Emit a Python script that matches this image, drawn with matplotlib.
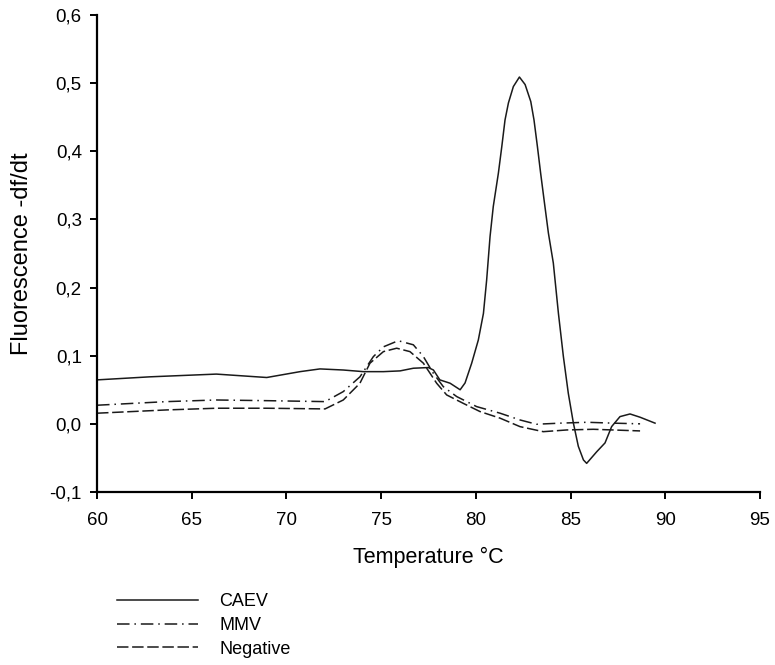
import numpy as np
import matplotlib
matplotlib.use('Agg')
import matplotlib.pyplot as plt

plt.rcParams['font.family'] = ['Liberation Sans', 'DejaVu Sans']

# CAEV melt curve
caev_t = [60, 62.8, 66.3, 68.96, 70.72, 71.77, 73.0, 74.06, 75.12, 76.0, 76.7, 77.49, 77.76, 78.1,
          78.64, 79.17, 79.43, 79.78, 80.13, 80.4, 80.57, 80.75, 80.92, 81.19, 81.37, 81.54, 81.72,
          81.98, 82.3, 82.6, 82.9, 83.07, 83.25, 83.42, 83.6, 83.83, 84.09, 84.36, 84.62, 84.88,
          85.15, 85.41, 85.68, 85.85, 86.38, 86.82, 87.17, 87.61, 88.14, 88.67, 89.46]
caev_y = [0.0645, 0.069, 0.073, 0.068, 0.0766, 0.0806, 0.079, 0.0766, 0.0766, 0.0777, 0.0816, 0.0826,
          0.079, 0.0645, 0.0596, 0.050, 0.060, 0.089, 0.123, 0.162, 0.211, 0.275, 0.319, 0.368, 0.407,
          0.446, 0.471, 0.495, 0.509, 0.498, 0.473, 0.446, 0.407, 0.368, 0.329, 0.280, 0.236, 0.162,
          0.099, 0.045, 0.001, -0.033, -0.053, -0.058, -0.041, -0.028, -0.004, 0.0106, 0.0145,
          0.0097, 0.001]

# MMV melt curve
mmv_t = [60, 63.67, 66.3, 68.96, 72.04, 73.0, 73.88, 74.59, 75.12, 75.9, 76.7, 77.23, 77.76, 78.28,
         78.99, 80.04, 81.28, 82.33, 83.2, 84.45, 85.86, 87.26, 88.67]
mmv_y = [0.0273, 0.0326, 0.035, 0.034, 0.0326, 0.0473, 0.069, 0.0987, 0.113, 0.122, 0.116, 0.0987,
         0.074, 0.0546, 0.040, 0.0253, 0.0156, 0.0057, -0.0006, 0.001, 0.0023, 0.001, 0.0]

# Negative control
neg_t = [60, 63.67, 66.3, 68.96, 72.04, 73.0, 73.88, 74.41, 75.12, 75.82, 76.52, 77.23, 77.93, 78.46,
         79.34, 80.22, 81.28, 82.33, 83.56, 84.8, 86.2, 88.67]
neg_y = [0.0156, 0.0204, 0.0229, 0.0229, 0.0219, 0.035, 0.0596, 0.089, 0.106, 0.111, 0.106, 0.089,
         0.0596, 0.0424, 0.030, 0.018, 0.0083, -0.0041, -0.0115, -0.009, -0.008, -0.0104]

xticks = [60, 65, 70, 75, 80, 85, 90, 95]
yticks = [-0.1, 0.0, 0.1, 0.2, 0.3, 0.4, 0.5, 0.6]

fig = plt.figure(figsize=(7.75, 6.65), dpi=100)
ax = fig.add_axes([0.1252, 0.2602, 0.8554, 0.7172])

col = '#1a1a1a'
l1, = ax.plot(caev_t, caev_y, color=col, lw=1.1, label='CAEV')
l2, = ax.plot(mmv_t, mmv_y, color=col, lw=1.1, dashes=(8.2, 3.2, 1, 3.2), label='MMV')
l3, = ax.plot(neg_t, neg_y, color=col, lw=1.1, dashes=(7.5, 2.4), label='Negative')

ax.set_xlim(60, 95)
ax.set_ylim(-0.1, 0.6)
ax.set_xticks(xticks)
ax.set_yticks(yticks)
ax.set_yticklabels([('%.1f' % v).replace('.', ',') for v in yticks])
ax.spines['top'].set_visible(False)
ax.spines['right'].set_visible(False)
ax.spines['left'].set_linewidth(1.6)
ax.spines['bottom'].set_linewidth(1.6)
ax.tick_params(direction='out', length=5, width=1.4, labelsize=13.5)
ax.tick_params(axis='x', pad=9.5)
ax.tick_params(axis='y', pad=6)

ax.set_xlabel('Temperature °C', fontsize=15.5, labelpad=13)
ax.set_ylabel('Fluorescence -df/dt', fontsize=17, labelpad=12)

fig.legend(handles=[l1, l2, l3], loc='upper left', bbox_to_anchor=(0.151, 0.108),
           frameon=False, fontsize=13, handlelength=4.5, handletextpad=1.15,
           labelspacing=0.37, borderaxespad=0, borderpad=0)

fig.savefig('out.png', dpi=100)
